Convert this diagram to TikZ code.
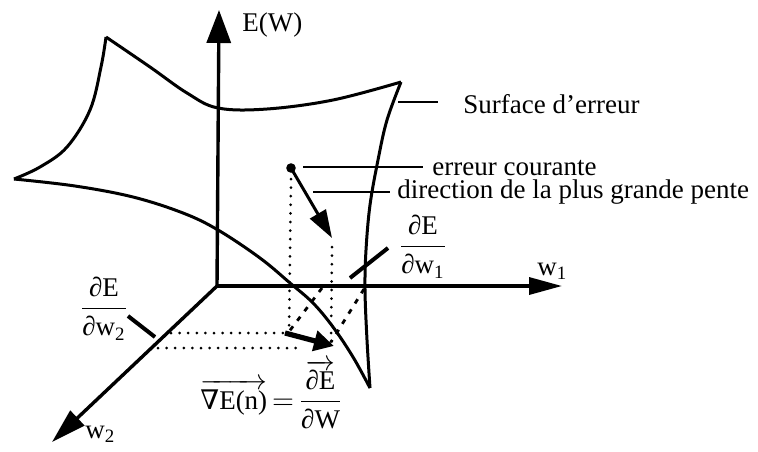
\documentclass[tikz,border=0pt]{standalone}
\usepackage{fontspec}
\usepackage{amsmath}
\setmainfont{Liberation Serif}
\newfontfamily\nablafont{DejaVu Serif}
\usetikzlibrary{arrows.meta}
\begin{document}
\begin{tikzpicture}[x=0.5pt,y=-0.5pt,
  surf/.style={line width=1.5pt, line join=round},
  axis/.style={line width=1.7pt},
  leader/.style={line width=1.2pt},
  thickleader/.style={line width=2pt},
  dots/.style={line width=1.5pt, dash pattern=on 0pt off 4.3pt, line cap=round},
  dashes/.style={line width=1.4pt, dash pattern=on 2.5pt off 3.5pt},
  lbl/.style={inner sep=0pt, font=\fontsize{13.5}{16}\selectfont},
]
\useasboundingbox (0,0) rectangle (758,451);
% axes
\coordinate (O) at (217,286);
\coordinate (Etip) at (219,10);
\coordinate (W1tip) at (562,286);
\coordinate (W2tip) at (52,442);
\draw[axis,-{Triangle[length=16.5pt,width=12pt]}] (O) -- (Etip);
\draw[axis,-{Triangle[length=16.5pt,width=8.5pt]}] (O) -- (W1tip);
\draw[axis,-{Triangle[length=17.5pt,width=10pt]}] (O) -- (W2tip);
% surface
\draw[surf] plot[smooth,tension=0.6] coordinates {(106,37) (150,67) (187,93) (218,108) (267,109) (333,100) (401,82)};
\draw[surf] plot[smooth,tension=0.6] coordinates {(106,37) (101,67) (90,110) (67,147) (40,167) (14,179)};
\draw[surf] plot[smooth,tension=0.6] coordinates {(14,179) (75,186) (133,197) (183,213) (218,230) (260,258) (290,283) (313,303) (333,327) (353,357) (370,388)};
\draw[surf] plot[smooth,tension=0.6] coordinates {(401,82) (387,120) (378,160) (370,205) (366,250) (365,290) (367,340) (370,388)};
% current point and descent
\coordinate (P) at (291,168);
\coordinate (Ptip) at (332,238);
\fill (P) circle (2.4pt);
\draw[line width=1.5pt,-{Triangle[length=14pt,width=9pt]}] (P) -- (Ptip);
% projections
\coordinate (Pa) at (291,179);
\coordinate (Pb) at (289,330);
\coordinate (Qa) at (332,247);
\coordinate (Qb) at (331,345);
\draw[dots] (Pa) -- (Pb);
\draw[dots] (Qa) -- (Qb);
\coordinate (H1a) at (171,333);
\coordinate (H1b) at (283,333);
\coordinate (H2a) at (158,348);
\coordinate (H2b) at (302,348);
\draw[dots] (H1a) -- (H1b);
\draw[dots] (H2a) -- (H2b);
\coordinate (Da1) at (322,288);
\coordinate (Da2) at (288,333);
\coordinate (Db1) at (364,289);
\coordinate (Db2) at (331,342);
\draw[dashes] (Da1) -- (Da2);
\draw[dashes] (Db1) -- (Db2);
\coordinate (G1) at (285,333);
\coordinate (G2) at (334,346);
\draw[line width=2.6pt,-{Triangle[length=10pt,width=10pt]}] (G1) -- (G2);
% labels
\node[lbl,anchor=base west] (EW) at (242,31) {E(W)};
\node[lbl,anchor=base west] (w1) at (537,275) {$\text{w}_{\text{1}}$};
\node[lbl,anchor=base west] (w2) at (85,438) {$\text{w}_{\text{2}}$};
\node[lbl,anchor=base west] (surfl) at (463,113) {Surface d'erreur};
\node[lbl,anchor=base west] (errl) at (432,175) {erreur courante};
\node[lbl,anchor=base west] (dirl) at (397,198) {direction de la plus grande pente};
\node[lbl,anchor=base] (dw1) at (423,254) {$\dfrac{\text{∂E}}{\text{∂w}_{\text{1}}}$};
\node[lbl,anchor=base] (dw2) at (104,316) {$\dfrac{\text{∂E}}{\text{∂w}_{\text{2}}}$};
\node[lbl,anchor=base west] (grad) at (200,409) {$\overrightarrow{\text{{\nablafont ∇}E(n)}}\mskip-2mu=\mskip-2mu\dfrac{\overrightarrow{\text{∂E}}}{\text{∂W}}$};
% leaders
\coordinate (Ls1) at (398,102);
\coordinate (Ls2) at (438,102);
\draw[leader] (Ls1) -- (Ls2);
\coordinate (Le1) at (303,167);
\coordinate (Le2) at (423,167);
\draw[leader] (Le1) -- (Le2);
\coordinate (Ld1) at (313,192);
\coordinate (Ld2) at (390,192);
\draw[leader] (Ld1) -- (Ld2);
\coordinate (L11) at (350,278);
\coordinate (L12) at (388,248);
\draw[thickleader] (L11) -- (L12);
\coordinate (L21) at (128,316);
\coordinate (L22) at (155,337);
\draw[thickleader] (L21) -- (L22);
\end{tikzpicture}
\end{document}
